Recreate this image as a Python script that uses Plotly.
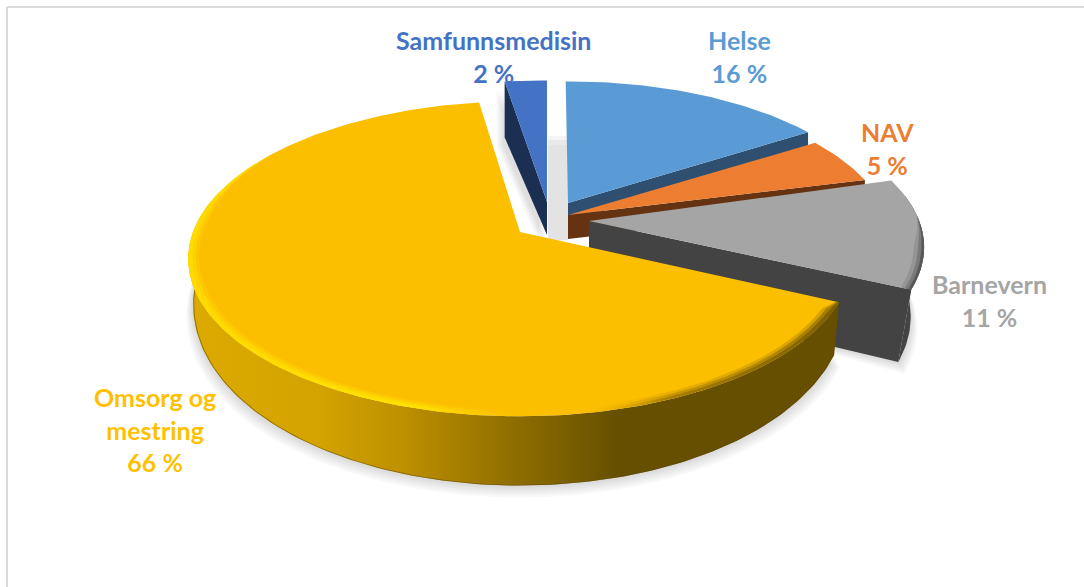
import math
import plotly.graph_objects as go

# ---- data ----
categories = ["Helse", "NAV", "Barnevern", "Omsorg og<br>mestring", "Samfunnsmedisin"]
values = [16, 5, 11, 66, 2]
top_colors = ["#5b9bd5", "#ed7d31", "#a5a5a5", "#fcbf00", "#4472c4"]
text_colors = ["#5b9bd5", "#ed7d31", "#a5a5a5", "#ffc000", "#4472c4"]
wall_colors = ["#2e4f6f", "#653312", "#434343", "#665000", "#1b2f52"]

# ---- 3-D pie look (the plane of the pie and how each exploded slice sits) ----
K, RX, RY = 0.17, 327.0, 153.0
style = {
    "Helse":     dict(ax=568, ay=203, sx=.955, sy=.93, da0=-.5, da1=-.5, h0=18, h1=0, shrink=1.0, edge="end"),
    "NAV":       dict(ax=568, ay=215, sx=.977, sy=.96, da0=0, da1=0, h0=24, h1=0, shrink=1.0, edge="end"),
    "Barnevern": dict(ax=589, ay=221, sx=1.01, sy=.98, da0=-2, da1=0, h0=68, h1=16, shrink=.96, edge="end"),
    "Omsorg og<br>mestring": dict(ax=520, ay=232, sx=1, sy=1, da0=0, da1=-1.2, h0=40.4, h1=31.6, shrink=.985, edge=None),
    "Samfunnsmedisin": dict(ax=547, ay=202, sx=1, sy=.93, da0=-1.5, da1=0, h0=33, h1=-23, shrink=1.0, edge="start"),
}
label_pos = {"Helse": (739, 56), "NAV": (887, 148), "Barnevern": (989, 300),
             "Omsorg og<br>mestring": (155, 429), "Samfunnsmedisin": (493, 56)}

# angles from the values
total = sum(values)
angles = {}
c = 0.0
for name, val in zip(categories, values):
    s = style[name]
    angles[name] = (c * 3.6 * 100 / total + s["da0"], (c + val) * 3.6 * 100 / total + s["da1"])
    c += val


def top(name, th, r=1.0):
    s = style[name]
    t = math.radians(th)
    u, v = r * math.sin(t), -r * math.cos(t)
    d = 1 / (1 - K * v)
    return s["ax"] + RX * s["sx"] * u * d, s["ay"] + RY * s["sy"] * v * d


def low(name, th, r=1.0):
    s = style[name]
    x, y = top(name, th, r)
    v = -r * math.cos(math.radians(th))
    return (s["ax"] + (x - s["ax"]) * s["shrink"],
            s["ay"] + (y - s["ay"]) * s["shrink"] + s["h0"] + s["h1"] * v)


def arc(a0, a1, step=1.0):
    n = max(2, int(abs(a1 - a0) / step) + 1)
    return [a0 + (a1 - a0) * i / (n - 1) for i in range(n)]


def poly(pts, color=None, gradient=None):
    xs = [p[0] for p in pts] + [pts[0][0]]
    ys = [p[1] for p in pts] + [pts[0][1]]
    kw = dict(x=xs, y=ys, mode="lines", line=dict(width=0), fill="toself",
              hoverinfo="skip", showlegend=False)
    if gradient:
        kw["fillgradient"] = dict(type="horizontal", colorscale=gradient)
    else:
        kw["fillcolor"] = color
    return go.Scatter(**kw)


fig = go.Figure()

# soft drop shadows
for name in ["Omsorg og<br>mestring", "Barnevern"]:
    a0, a1 = angles[name]
    s = style[name]
    for i in range(1, 7):
        pts = [(s["ax"], s["ay"] + s["h0"])]
        for th in arc(a0, a1, 2):
            x, y = low(name, th)
            pts.append((s["ax"] + (x - s["ax"]) * (1 + .0035 * i), y + 2.0 * i))
        fig.add_trace(poly(pts, "rgba(0,0,0,0.024)"))
name = "Samfunnsmedisin"
a0, a1 = angles[name]
for i in range(1, 5):
    pts = [top(name, a0), low(name, a0), (style[name]["ax"], style[name]["ay"] + style[name]["h0"]),
           (style[name]["ax"], style[name]["ay"])]
    pts = [(p[0] - 2.0 * i, p[1] + 8) for p in pts]
    fig.add_trace(poly(pts, "rgba(0,0,0,0.03)"))

# slices, back to front
for name in ["Samfunnsmedisin", "Helse", "NAV", "Barnevern", "Omsorg og<br>mestring"]:
    idx = categories.index(name)
    s = style[name]
    a0, a1 = angles[name]
    wall = wall_colors[idx]
    apex, apex_b = (s["ax"], s["ay"]), (s["ax"], s["ay"] + s["h0"])
    # cut wall
    if s["edge"]:
        e = a1 if s["edge"] == "end" else a0
        fig.add_trace(poly([apex, top(name, e), low(name, e), apex_b], wall))
    # outer wall on the visible front of the pie
    f0, f1 = max(a0, 80), min(a1, 282)
    if f1 > f0:
        ths = arc(f0, f1, 1)
        band = [top(name, t) for t in ths] + [low(name, t) for t in reversed(ths)]
        if name.startswith("Omsorg"):
            grad = [[0, "#dcaa00"], [.2, "#d4a300"], [.33, "#bd9000"], [.5, "#8f6e00"],
                    [.66, "#665000"], [1, "#665000"]]
            fig.add_trace(poly(band, gradient=grad))
            # thin dark seam along the bottom edge
            seam = [low(name, t) for t in ths] + [low(name, t, .997) for t in reversed(ths)]
            fig.add_trace(poly(seam, "rgba(90,65,0,0.55)"))
        else:
            fig.add_trace(poly(band, wall))
    # top face
    pts = [apex] + [top(name, t) for t in arc(a0, a1, 1)]
    fig.add_trace(poly(pts, top_colors[idx]))
    # bevel along the rim
    if name.startswith("Omsorg"):
        ths = arc(a0, 305, 1)
        for w, alpha in [(.032, .3), (.022, .55), (.012, .9)]:
            grad = [[0, f"rgba(255,220,0,{alpha})"], [.36, f"rgba(255,226,0,{alpha})"],
                    [.52, "rgba(252,191,0,0)"], [.60, "rgba(252,191,0,0)"],
                    [.74, f"rgba(150,112,0,{alpha * .7})"], [1, f"rgba(120,92,0,{alpha})"]]
            inner = [top(name, t, 1 - w * min(1, (305 - t) / 30) * min(1, (t - a0 + 1) / 4)) for t in reversed(ths)]
            fig.add_trace(poly([top(name, t) for t in ths] + inner, gradient=grad))
    elif name == "Barnevern":
        ths = arc(a0 + 14, a1, 1)
        for w, col in [(.03, "rgba(110,110,110,0.3)"), (.018, "rgba(90,90,90,0.45)"), (.008, "rgba(70,70,70,0.65)")]:
            inner = [top(name, t, 1 - w * min(1, (t - a0 - 14) / 12)) for t in reversed(ths)]
            fig.add_trace(poly([top(name, t) for t in ths] + inner, col))

# text labels
for name, val, col in zip(categories, values, text_colors):
    x, y = label_pos[name]
    fig.add_annotation(x=x, y=y, text=f"<b>{name}<br>{val} %</b>", showarrow=False,
                       font=dict(family="Lato", size=25, color=col), align="center",
                       xanchor="center", yanchor="middle")

fig.update_layout(
    width=1084, height=587, margin=dict(l=0, r=0, t=0, b=0),
    paper_bgcolor="white", plot_bgcolor="white", showlegend=False,
    xaxis=dict(range=[0, 1084], visible=False, fixedrange=True),
    yaxis=dict(range=[587, 0], visible=False, fixedrange=True),
    shapes=[
        dict(type="line", x0=7, x1=7, y0=7, y1=587, line=dict(color="#d9d9d9", width=2), layer="below"),
        dict(type="line", x0=7, x1=1084, y0=7, y1=7, line=dict(color="#d9d9d9", width=2), layer="below"),
        dict(type="rect", x0=548, x1=568, y0=136, y1=240, fillcolor="#f4f4f4", line=dict(width=0), layer="below"),
        dict(type="rect", x0=548, x1=568, y0=140, y1=240, fillcolor="#e9e9e9", line=dict(width=0), layer="below"),
        dict(type="rect", x0=548, x1=568, y0=145, y1=240, fillcolor="#e3e3e3", line=dict(width=0), layer="below"),
    ],
)
fig.write_html("out.html", config={"displayModeBar": False}, post_script="document.body.style.margin='0';")
